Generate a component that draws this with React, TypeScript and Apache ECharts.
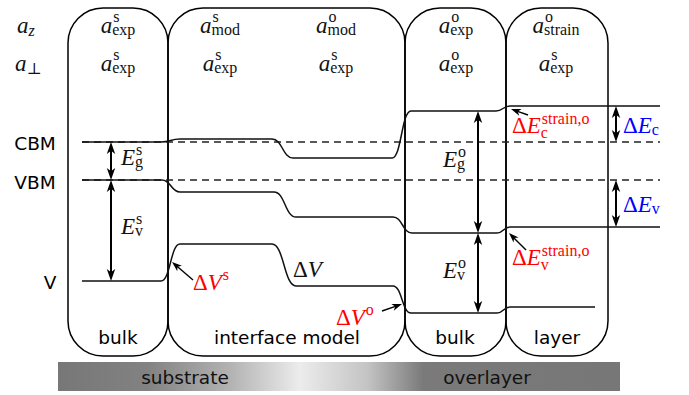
import React, { useEffect, useRef } from "react";
import * as echarts from "echarts";

const W = 689;
const H = 395;

// ---- frames (rounded boxes) ----
const boxLeft = [68, 168, 405, 506];
const boxRight = [168, 405, 506, 608];
const boxTop = 8;
const boxBottom = 356;
const boxNames = ["bulk", "interface model", "bulk", "layer"];
const boxNameX = [118, 287, 455, 557];
const boxNameY = 337;

// ---- energy levels (x, energy position) ----
const cbmLevel = [[82, 142], [161, 142], [180, 139], [272, 139], [293, 158], [392, 158], [411, 111], [496, 111], [510, 106], [660, 106]];
const vbmLevel = [[82, 180], [162, 180], [180, 192], [274, 192], [296, 217], [393, 217], [412, 233], [497, 233], [510, 227], [660, 227]];
const vLevel = [[82, 281], [161, 281], [180, 244], [272, 244], [296, 286], [393, 286], [411, 313], [497, 313], [510, 307], [595, 307]];
const cbmRef = [[82, 142], [660, 142]];
const vbmRef = [[82, 180], [660, 180]];

const levelNames = ["CBM", "VBM", "V"];
const levelNameX = [35, 35, 50];
const levelNameY = [143, 182, 282];

// ---- arrows [x1, y1, x2, y2] ----
const doubleArrows = [
  [111, 142, 111, 180],
  [111, 180, 111, 281],
  [478, 111, 478, 233],
  [478, 233, 478, 313],
  [616, 106, 616, 142],
  [616, 180, 616, 227],
];
const pointerArrows = [
  [193, 280, 172, 262],
  [382, 311, 402, 304],
  [528, 115, 511, 109],
  [526, 250, 509, 233],
];

// ---- bottom bar ----
const barRange = [58, 620, 362, 391];
const barNames = ["substrate", "overlayer"];
const barNameX = [185, 487];
const barNameY = 377;

// ---- lattice parameter labels ----
const latticeNames = [
  { x: 17, y: 33, sub: "z" },
  { x: 15, y: 71, sub: "⊥" },
];
const latticeRowY = [33, 71];
const latticeX = [118, 220, 336, 456, 556];
const latticeRow1Sub = ["exp", "mod", "mod", "exp", "strain"];
const latticeRow1Sup = ["s", "s", "o", "o", "o"];
const latticeRow2Sub = ["exp", "exp", "exp", "exp", "exp"];
const latticeRow2Sup = ["s", "s", "s", "o", "s"];

const RED = "#ff0000";
const BLUE = "#0000ff";
const INK = "#111111";

type Seg = [string, boolean];
type MathLabel = {
  x: number;
  y: number;
  base: Seg[];
  sup?: string;
  sub?: string;
  subIt?: boolean;
  color?: string;
  center?: boolean;
  supDy?: number;
  subDy?: number;
};

const E: Seg[] = [["E", true]];
const dE: Seg[] = [["Δ", false], ["E", true]];
const dV: Seg[] = [["Δ", false], ["V", true]];

const energyLabels: MathLabel[] = [
  { x: 121, y: 165, base: E, sup: "s", sub: "g" },
  { x: 121, y: 234, base: E, sup: "s", sub: "v" },
  { x: 443, y: 167, base: E, sup: "o", sub: "g" },
  { x: 443, y: 278, base: E, sup: "o", sub: "v" },
  { x: 512, y: 133, base: dE, sup: "strain,o", sub: "c", color: RED, supDy: -9, subDy: 5 },
  { x: 512, y: 265, base: dE, sup: "strain,o", sub: "v", color: RED, supDy: -9, subDy: 5 },
  { x: 623, y: 133, base: dE, sub: "c", color: BLUE },
  { x: 623, y: 212, base: dE, sub: "v", color: BLUE },
  { x: 193, y: 290, base: dV, sup: "s", color: RED },
  { x: 293, y: 277, base: dV },
  { x: 336, y: 325, base: dV, sup: "o", color: RED },
];

const SERIF = '"Liberation Serif", "DejaVu Serif", serif';
const SANS = '"DejaVu Sans", sans-serif';
const B = 23;
const S = 16;

let measureCtx: CanvasRenderingContext2D | null = null;
function tw(text: string, font: string) {
  if (!measureCtx) measureCtx = document.createElement("canvas").getContext("2d");
  measureCtx!.font = font;
  return measureCtx!.measureText(text).width;
}
function serif(size: number, it: boolean) {
  return `${it ? "italic " : ""}${size}px ${SERIF}`;
}
function textEl(text: string, x: number, y: number, font: string, fill: string, align = "left") {
  return {
    type: "text",
    x,
    y,
    z: 100,
    silent: true,
    style: { text, font, fill, textAlign: align, textVerticalAlign: "middle" },
  };
}

function mathEls(m: MathLabel, px: (x: number, y: number) => number[]) {
  const [x0, yb] = px(m.x, m.y);
  const color = m.color || INK;
  const baseW = m.base.reduce((s, [t, it]) => s + tw(t, serif(B, it)), 0);
  const supW = m.sup ? tw(m.sup, serif(S, false)) + 1 : 0;
  const subW = m.sub ? tw(m.sub, serif(S, !!m.subIt)) : 0;
  const total = baseW + Math.max(supW, subW);
  let x = m.center ? x0 - total / 2 : x0;
  const els: any[] = [];
  for (const [t, it] of m.base) {
    els.push(textEl(t, x, yb - 0.34 * B, serif(B, it), color));
    x += tw(t, serif(B, it));
  }
  if (m.sup) els.push(textEl(m.sup, x + 1, yb + (m.supDy ?? -10) - 0.34 * S, serif(S, false), color));
  if (m.sub) els.push(textEl(m.sub, x, yb + (m.subDy ?? 2) - 0.34 * S, serif(S, !!m.subIt), color));
  return els;
}

function head(tx: number, ty: number, fx: number, fy: number, L: number, Wd: number) {
  const len = Math.hypot(tx - fx, ty - fy) || 1;
  const dx = (tx - fx) / len;
  const dy = (ty - fy) / len;
  const nx = -dy;
  const ny = dx;
  return {
    poly: [
      [tx, ty],
      [tx - dx * L + nx * Wd, ty - dy * L + ny * Wd],
      [tx - dx * L * 0.72, ty - dy * L * 0.72],
      [tx - dx * L - nx * Wd, ty - dy * L - ny * Wd],
    ],
    back: [tx - dx * L * 0.7, ty - dy * L * 0.7],
  };
}

export default function App() {
  const ref = useRef<HTMLDivElement>(null);
  useEffect(() => {
    if (!ref.current) return;
    const chart = echarts.init(ref.current, null, { renderer: "svg" });

    const levelSeries = (data: number[][]) => ({
      type: "line",
      data,
      smooth: 0.5,
      smoothMonotone: "x",
      symbol: "none",
      silent: true,
      z: 4,
      lineStyle: { color: INK, width: 1.5 },
    });
    const refSeries = (data: number[][]) => ({
      type: "line",
      data,
      symbol: "none",
      silent: true,
      z: 3,
      lineStyle: { color: "#222", width: 1.3, type: [7, 5] },
    });

    const arrowItem = (both: boolean, lw: number, L: number, Wd: number) => (params: any, api: any) => {
      const p1 = api.coord([api.value(0), api.value(1)]);
      const p2 = api.coord([api.value(2), api.value(3)]);
      const h2 = head(p2[0], p2[1], p1[0], p1[1], L, Wd);
      const h1 = head(p1[0], p1[1], p2[0], p2[1], L, Wd);
      const start = both ? h1.back : p1;
      const children: any[] = [
        {
          type: "line",
          shape: { x1: start[0], y1: start[1], x2: h2.back[0], y2: h2.back[1] },
          style: { stroke: "#000", lineWidth: lw },
        },
        { type: "polygon", shape: { points: h2.poly }, style: { fill: "#000" } },
      ];
      if (both) children.push({ type: "polygon", shape: { points: h1.poly }, style: { fill: "#000" } });
      return { type: "group", children };
    };

    chart.setOption({
      animation: false,
      backgroundColor: "#ffffff",
      grid: { left: 0, right: 0, top: 0, bottom: 0 },
      xAxis: { type: "value", min: 0, max: W, show: false },
      yAxis: { type: "value", min: 0, max: H, inverse: true, show: false },
      series: [
        {
          type: "custom",
          silent: true,
          z: 1,
          data: [barRange],
          renderItem: (params: any, api: any) => {
            const a = api.coord([api.value(0), api.value(2)]);
            const b = api.coord([api.value(1), api.value(3)]);
            return {
              type: "rect",
              shape: { x: a[0], y: a[1], width: b[0] - a[0], height: b[1] - a[1] },
              style: {
                fill: new echarts.graphic.LinearGradient(0, 0, 1, 0, [
                  { offset: 0, color: "#777777" },
                  { offset: 0.16, color: "#828282" },
                  { offset: 0.31, color: "#b4b4b4" },
                  { offset: 0.43, color: "#ececec" },
                  { offset: 0.55, color: "#c4c4c4" },
                  { offset: 0.65, color: "#7a7a7a" },
                  { offset: 1, color: "#777777" },
                ]),
              },
            };
          },
        },
        {
          type: "custom",
          silent: true,
          z: 2,
          data: boxLeft.map((l, i) => [l, boxRight[i], boxTop, boxBottom]),
          renderItem: (params: any, api: any) => {
            const a = api.coord([api.value(0), api.value(2)]);
            const b = api.coord([api.value(1), api.value(3)]);
            return {
              type: "rect",
              shape: { x: a[0], y: a[1], width: b[0] - a[0], height: b[1] - a[1], r: 35 },
              style: { fill: "none", stroke: "#000", lineWidth: 1.5 },
            };
          },
        },
        refSeries(cbmRef),
        refSeries(vbmRef),
        levelSeries(cbmLevel),
        levelSeries(vbmLevel),
        levelSeries(vLevel),
        {
          type: "custom",
          silent: true,
          z: 5,
          data: doubleArrows,
          renderItem: arrowItem(true, 2, 12, 4.2),
        },
        {
          type: "custom",
          silent: true,
          z: 5,
          data: pointerArrows,
          renderItem: arrowItem(false, 1.4, 10, 3.6),
        },
      ],
    });

    const px = (x: number, y: number) => chart.convertToPixel({ gridIndex: 0 }, [x, y]) as number[];
    const els: any[] = [];
    levelNames.forEach((t, i) => {
      const p = px(levelNameX[i], levelNameY[i]);
      els.push(textEl(t, p[0], p[1], `18.5px ${SANS}`, "#000", "center"));
    });
    boxNames.forEach((t, i) => {
      const p = px(boxNameX[i], boxNameY);
      els.push(textEl(t, p[0], p[1], `18.5px ${SANS}`, "#000", "center"));
    });
    barNames.forEach((t, i) => {
      const p = px(barNameX[i], barNameY);
      els.push(textEl(t, p[0], p[1], `18.5px ${SANS}`, "#111", "center"));
    });
    latticeNames.forEach((l) => {
      els.push(...mathEls({ x: l.x, y: l.y, base: [["a", true]], sub: l.sub, subIt: l.sub === "z", subDy: 3 }, px));
    });
    latticeX.forEach((x, i) => {
      els.push(...mathEls({ x, y: latticeRowY[0], base: [["a", true]], sup: latticeRow1Sup[i], sub: latticeRow1Sub[i], center: true, supDy: -11 }, px));
      els.push(...mathEls({ x, y: latticeRowY[1], base: [["a", true]], sup: latticeRow2Sup[i], sub: latticeRow2Sub[i], center: true, supDy: -11 }, px));
    });
    energyLabels.forEach((m) => els.push(...mathEls(m, px)));

    chart.setOption({ graphic: { elements: els } });

    return () => chart.dispose();
  }, []);

  return (
    <div
      ref={ref}
      style={{ position: "absolute", left: 0, top: 0, width: W, height: H, background: "#fff" }}
    />
  );
}
